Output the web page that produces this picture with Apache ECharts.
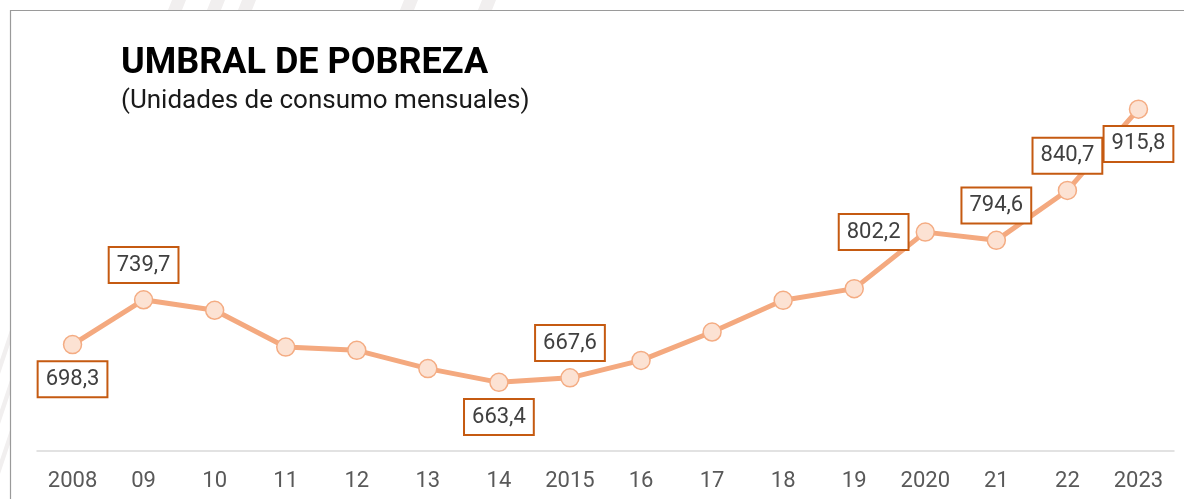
<!DOCTYPE html>
<html>
<head>
<meta charset="utf-8">
<script src="https://cdn.jsdelivr.net/npm/echarts@6/dist/echarts.min.js"></script>
<style>
  html, body { margin: 0; padding: 0; background: #fff; }
  #chart { width: 1184px; height: 499px; }
</style>
</head>
<body>
<div id="chart"></div>
<script>
const years = ['2008', '09', '10', '11', '12', '13', '14', '2015', '16', '17', '18', '19', '2020', '21', '22', '2023']
const umbral = [698.3, 739.7, 730.0, 696.0, 693.0, 676.1, 663.4, 667.6, 683.7, 709.9, 739.2, 750.0, 802.2, 794.6, 840.7, 915.8]

// which points carry a boxed label, and where it sits
const labelPos = { 0: 'bottom', 1: 'top', 6: 'bottom', 7: 'top', 12: 'left', 13: 'top', 14: 'top', 15: 'bottom' }

const fmt = v => v.toFixed(1).replace('.', ',')

const chart = echarts.init(document.getElementById('chart'))

// faint diagonal stripes of the background
const stripes = [166, 205, 236, 398, 476].map(x => ({
  type: 'polygon',
  silent: true,
  shape: { points: [[x + 6, 0], [x + 20, 0], [x + 16, 10], [x + 2, 10]] },
  style: { fill: '#f1efef' }
})).concat([330, 380, 430].map(y => ({
  type: 'polygon',
  silent: true,
  shape: { points: [[0, y + 30], [10, y], [10, y + 14], [0, y + 44]] },
  style: { fill: '#f1efef' }
})))

chart.setOption({
  animation: false,
  graphic: stripes.concat([
    {
      type: 'polyline',
      silent: true,
      shape: { points: [[10.5, 499], [10.5, 10.5], [1184, 10.5]] },
      style: { stroke: '#9a9a9a', lineWidth: 1.2, fill: null }
    }
  ]),
  title: {
    text: 'UMBRAL DE POBREZA',
    subtext: '(Unidades de consumo mensuales)',
    left: 116,
    top: 41,
    itemGap: 6,
    textStyle: { fontFamily: 'Roboto', fontWeight: 'bold', fontSize: 36, color: '#000' },
    subtextStyle: { fontFamily: 'Roboto', fontSize: 26, color: '#1a1a1a' }
  },
  grid: { left: 37, right: 10, top: 18, bottom: 48 },
  xAxis: {
    type: 'category',
    data: years,
    axisLine: { lineStyle: { color: '#d9d9d9', width: 1.5 } },
    axisTick: { show: false },
    axisLabel: { color: '#595959', fontSize: 22, fontFamily: 'Roboto', margin: 19 }
  },
  yAxis: {
    type: 'value',
    min: 600,
    max: 1000,
    show: false,
    splitLine: { show: false }
  },
  series: [{
    type: 'line',
    data: umbral.map((v, i) => {
      const pos = labelPos[i]
      if (!pos) return v
      return {
        value: v,
        label: { show: true, position: pos, distance: 8 }
      }
    }),
    symbol: 'circle',
    symbolSize: 18,
    lineStyle: { color: '#f4a97f', width: 5 },
    itemStyle: { color: '#fce2d3', borderColor: '#f4ac83', borderWidth: 1.5 },
    label: {
      show: false,
      formatter: p => fmt(p.value),
      fontFamily: 'Roboto',
      fontSize: 22,
      color: '#404040',
      backgroundColor: '#fff',
      borderColor: '#c55a11',
      borderWidth: 2,
      padding: [6, 7, 6, 7]
    },
    z: 3
  }]
})
</script>
</body>
</html>
